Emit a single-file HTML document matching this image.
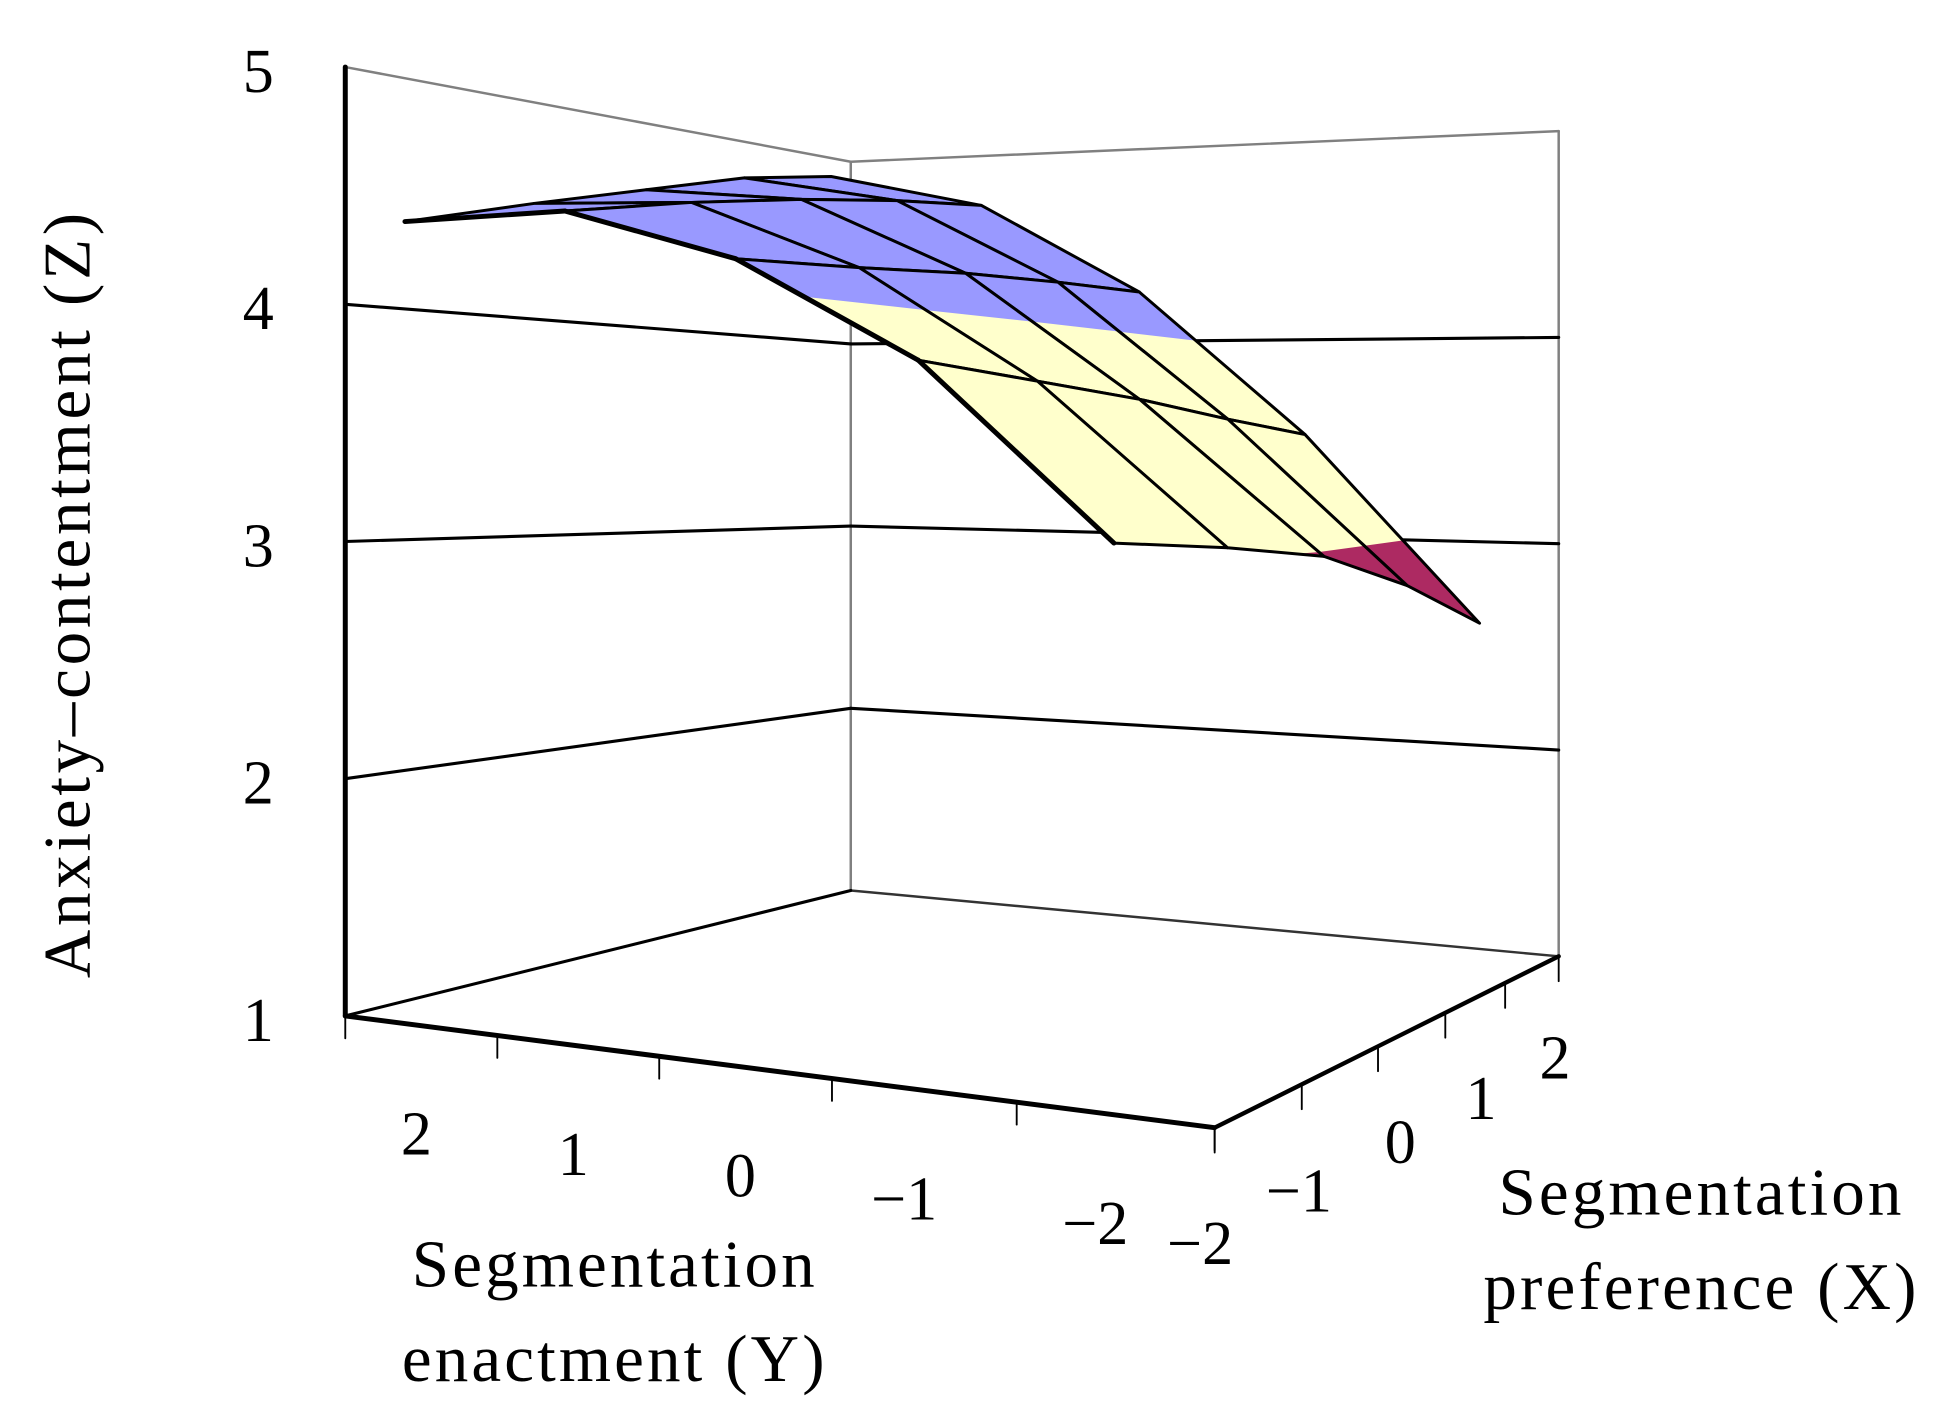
<!DOCTYPE html>
<html><head><meta charset="utf-8"><style>
html,body{margin:0;padding:0;background:#fff;}
svg{display:block;}
text{font-family:"Liberation Serif",serif;fill:#000;}
</style></head><body>
<svg id="chart" width="1938" height="1412" viewBox="0 0 1560.4 1136.9" xmlns="http://www.w3.org/2000/svg">
<g id="walls"></g>
<g id="surface"></g>
<g id="axes"></g>
<text transform="translate(72,478) rotate(-90)" text-anchor="middle" font-size="54" letter-spacing="3">Anxiety–contentment  (Z)</text>
<text x="495" y="1036" text-anchor="middle" font-size="54" letter-spacing="2.5">Segmentation</text>
<text x="495" y="1112" text-anchor="middle" font-size="54" letter-spacing="2.5">enactment (Y)</text>
<text x="1370" y="978" text-anchor="middle" font-size="54" letter-spacing="2.5">Segmentation</text>
<text x="1370" y="1054" text-anchor="middle" font-size="54" letter-spacing="2.5">preference (X)</text>
</svg>
<script>
const yCategories = ['2','1','0','−1','−2'];
const xCategories = ['−2','−1','0','1','2'];
const zTicks = [1,2,3,4,5];
// rows: Y = 2,1,0,-1,-2 ; cols: X = -2,-1,0,1,2
const zRowY2  = [4.34,4.50,4.65,4.80,4.90];
const zRowY1  = [4.36,4.48,4.58,4.66,4.72];
const zRowY0  = [4.15,4.18,4.22,4.24,4.25];
const zRowYm1 = [3.75,3.70,3.65,3.58,3.52];
const zRowYm2 = [3.08,3.04,2.98,2.82,2.60];
const zValues = [zRowY2,zRowY1,zRowY0,zRowYm1,zRowYm2];

const NS='http://www.w3.org/2000/svg';
const P=[[278,818],[978,908],[1255,770],[685,717]];
const dx1=P[1][0]-P[2][0],dx2=P[3][0]-P[2][0],dx3=P[0][0]-P[1][0]+P[2][0]-P[3][0];
const dy1=P[1][1]-P[2][1],dy2=P[3][1]-P[2][1],dy3=P[0][1]-P[1][1]+P[2][1]-P[3][1];
const den=dx1*dy2-dx2*dy1;
const G=(dx3*dy2-dx2*dy3)/den,H=(dx1*dy3-dx3*dy1)/den;
const Ha=P[1][0]-P[0][0]+G*P[1][0],Hb=P[3][0]-P[0][0]+H*P[3][0],Hc=P[0][0];
const Hd=P[1][1]-P[0][1]+G*P[1][1],He=P[3][1]-P[0][1]+H*P[3][1],Hf=P[0][1];
const zUnit=191;
function proj(u,v,z){
  const w=G*u+H*v+1;
  return [(Ha*u+Hb*v+Hc)/w,(Hd*u+He*v+Hf)/w-(z-1)*zUnit/w];
}
function gridUV(i,j){
  const a=i/4,b=j/4;
  const u=(1-a)*((1-b)*0.08+b*0.0)+a*0.9;
  const v=(1-a)*(b*0.95)+a*(b*1.0);
  return [u,v];
}
function mk(tag,attrs,parent){const e=document.createElementNS(NS,tag);for(const k in attrs)e.setAttribute(k,attrs[k]);parent.appendChild(e);return e;}
function line(p,q,stroke,sw,parent,name){
  const e=mk('line',{x1:p[0],y1:p[1],x2:q[0],y2:q[1],stroke:stroke,'stroke-width':sw,'stroke-linecap':'round'},parent);
  
  
  return e;
}
const walls=document.getElementById('walls');
const axes=document.getElementById('axes');
const surf=document.getElementById('surface');
const zMin=zTicks[0],zMax=zTicks[zTicks.length-1];
line(proj(0,1,zMin),proj(0,1,zMax),'#808080',2,walls,'back-corner-edge');
line(proj(1,1,zMin),proj(1,1,zMax),'#808080',2,walls,'right-wall-edge');
line(proj(0,0,zMax),proj(0,1,zMax),'#808080',2,walls,'left-wall-top-edge');
line(proj(0,1,zMax),proj(1,1,zMax),'#808080',2,walls,'right-wall-top-edge');
line(proj(0,1,zMin),proj(1,1,zMin),'#333',2,walls,'right-wall-floor-edge');
line(proj(0,0,zMin),proj(0,1,zMin),'#000',2.5,walls,'left-wall-floor-edge');
zTicks.forEach((z,k)=>{
  if(z>zMin&&z<zMax){
    line(proj(0,0,z),proj(0,1,z),'#000',2.5,walls,'gridline-left-z'+z);
    line(proj(0,1,z),proj(1,1,z),'#000',2.5,walls,'gridline-right-z'+z);
  }
});
line(proj(0,0,zMin),proj(0,0,zMax),'#000',4,axes,'z-axis-line');
zTicks.forEach(z=>{
  const p=proj(0,0,z);
  const t=mk('text',{x:p[0]-70,y:p[1]+20,'text-anchor':'middle','font-size':50},axes);
  t.textContent=String(z);
  
  
});
line(proj(0,0,zMin),proj(1,0,zMin),'#000',4,axes,'y-axis-line');
for(let k=0;k<=yCategories.length;k++){
  const p=proj(k/yCategories.length,0,zMin);
  line(p,[p[0],p[1]+18],'#000',1.5,axes,'y-tick-mark');
}
yCategories.forEach((c,k)=>{
  const p=proj((k+0.5)/yCategories.length,0,zMin);
  const t=mk('text',{x:p[0]-3+(c.length>1?-12:0),y:p[1]+104,'text-anchor':'middle','font-size':50},axes);
  t.textContent=c;
  
  
});
line(proj(1,0,zMin),proj(1,1,zMin),'#000',3.5,axes,'x-axis-line');
for(let k=0;k<=xCategories.length;k++){
  const p=proj(1,k/xCategories.length,zMin);
  line(p,[p[0],p[1]+20],'#000',1.5,axes,'x-tick-mark');
}
xCategories.forEach((c,k)=>{
  const v=(k+0.5)/xCategories.length;
  const p=proj(1,v,zMin);
  const f=(v-0.1)/0.8;
  const t=mk('text',{x:p[0]-38+56*f+(c.length>1?-10:0),y:p[1]+128-40*f,'text-anchor':'middle','font-size':50},axes);
  t.textContent=c;
  
  
});
const bands=[[-99,2,'#7f7fbf'],[2,3,'#AD2A62'],[3,4,'#FFFFCC'],[4,99,'#9999FF']];
function clip(poly,lim,keepAbove){
  const out=[];
  for(let n=0;n<poly.length;n++){
    const a=poly[n],b=poly[(n+1)%poly.length];
    const ia=keepAbove?a[2]>=lim:a[2]<=lim, ib=keepAbove?b[2]>=lim:b[2]<=lim;
    if(ia)out.push(a);
    if(ia!==ib){const t=(lim-a[2])/(b[2]-a[2]);out.push([a[0]+t*(b[0]-a[0]),a[1]+t*(b[1]-a[1]),lim]);}
  }
  return out;
}
const cells=[];
for(let i=0;i<zValues.length-1;i++)for(let j=0;j<zValues[0].length-1;j++){
  const c=[[i,j],[i+1,j],[i+1,j+1],[i,j+1]].map(([a,b])=>{const uv=gridUV(a,b);return [uv[0],uv[1],zValues[a][b]];});
  const uc=c.reduce((s,p)=>s+p[0],0)/4,vc=c.reduce((s,p)=>s+p[1],0)/4;
  cells.push({c,key:uc-vc,i,j});
}
cells.sort((a,b)=>a.key-b.key);
cells.forEach(cell=>{
  const g=mk('g',{},surf);
  
  
  bands.forEach(([lo,hi,col])=>{
    let p=clip(cell.c,lo,true); if(p.length<3)return;
    p=clip(p,hi,false); if(p.length<3)return;
    const pts=p.map(q=>proj(q[0],q[1],q[2]).map(n=>n.toFixed(1)).join(',')).join(' ');
    const e=mk('polygon',{points:pts,fill:col,stroke:col,'stroke-width':0.8},g);
    
    
  });
  const pts=cell.c.map(q=>proj(q[0],q[1],q[2]).map(n=>n.toFixed(1)).join(',')).join(' ');
  const o=mk('polygon',{points:pts,fill:'none',stroke:'#000','stroke-width':2.4,'stroke-linejoin':'round'},g);
  
  
});
for(let i=0;i<zValues.length-1;i++){
  const a=gridUV(i,0),b=gridUV(i+1,0);
  line(proj(a[0],a[1],zValues[i][0]),proj(b[0],b[1],zValues[i+1][0]),'#000',4,surf,'surface-front-edge');
}
</script>
</body></html>
